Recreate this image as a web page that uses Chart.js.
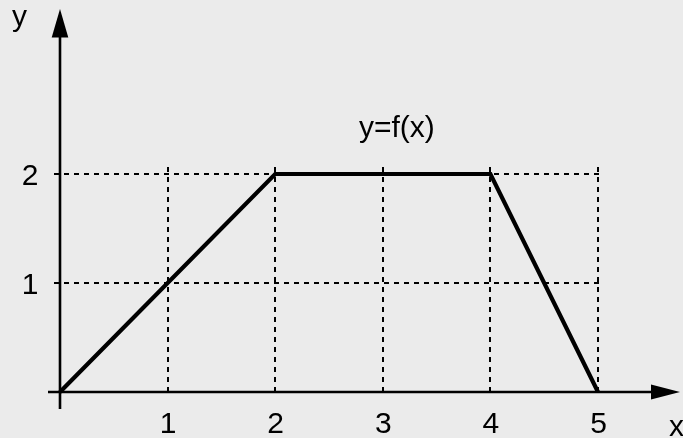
<!DOCTYPE html>
<html><head><meta charset="utf-8">
<script src="https://cdn.jsdelivr.net/npm/chart.js@4"></script>
<style>html,body{margin:0;padding:0;background:#ebebeb;overflow:hidden}#wrap{width:683px;height:438px;position:relative}</style>
</head><body><div id="wrap"><canvas id="c"></canvas></div>
<script>
const xValues = [0, 2, 4, 5];
const yValues = [0, 2, 2, 0];
const xTicks = [1, 2, 3, 4, 5];
const yTicks = [1, 2];
const curveLabel = 'y=f(x)';
const xAxisTitle = 'x';
const yAxisTitle = 'y';

const FONT = '30px "Liberation Sans", Arial, sans-serif';

const axesPlugin = {
  id: 'axesPlugin',
  beforeDatasetsDraw(chart) {
    const ctx = chart.ctx, xs = chart.scales.x, ys = chart.scales.y;
    const x0 = xs.getPixelForValue(0), y0 = ys.getPixelForValue(0);
    const xMaxTick = xs.getPixelForValue(Math.max(...xTicks));
    const yMaxTick = ys.getPixelForValue(Math.max(...yTicks));
    ctx.save();
    ctx.strokeStyle = '#000';
    // dashed grid
    ctx.lineWidth = 2;
    ctx.setLineDash([5, 5]);
    yTicks.forEach(v => {
      const py = Math.round(ys.getPixelForValue(v));
      ctx.beginPath();
      ctx.moveTo(x0 - 6, py);
      ctx.lineTo(xMaxTick + 2, py);
      ctx.stroke();
    });
    xTicks.forEach(v => {
      const px = Math.round(xs.getPixelForValue(v));
      ctx.beginPath();
      ctx.moveTo(px, y0);
      ctx.lineTo(px, yMaxTick - 9);
      ctx.stroke();
    });
    ctx.setLineDash([]);
    // axes
    ctx.lineWidth = 2.6;
    ctx.beginPath();
    ctx.moveTo(xs.left, y0);
    ctx.lineTo(xs.right - 20, y0);
    ctx.moveTo(x0, ys.bottom);
    ctx.lineTo(x0, ys.top + 20);
    ctx.stroke();
    // arrows
    ctx.fillStyle = '#000';
    ctx.beginPath();
    ctx.moveTo(xs.right, y0);
    ctx.lineTo(xs.right - 29, y0 - 7.5);
    ctx.lineTo(xs.right - 29, y0 + 7.5);
    ctx.closePath();
    ctx.fill();
    ctx.beginPath();
    ctx.moveTo(x0, ys.top);
    ctx.lineTo(x0 - 8.3, ys.top + 28.5);
    ctx.lineTo(x0 + 8.3, ys.top + 28.5);
    ctx.closePath();
    ctx.fill();
    ctx.restore();
  },
  afterDatasetsDraw(chart) {
    const ctx = chart.ctx, xs = chart.scales.x, ys = chart.scales.y;
    const x0 = xs.getPixelForValue(0), y0 = ys.getPixelForValue(0);
    ctx.save();
    ctx.fillStyle = '#000';
    ctx.font = FONT;
    ctx.textBaseline = 'alphabetic';
    ctx.textAlign = 'center';
    xTicks.forEach(v => {
      ctx.fillText(String(v), xs.getPixelForValue(v) + 0.5, y0 + 41.5);
    });
    yTicks.forEach(v => {
      ctx.fillText(String(v), x0 - 30, ys.getPixelForValue(v) + 11);
    });
    ctx.fillText(curveLabel, xs.getPixelForValue(3) + 14, ys.getPixelForValue(2) - 37);
    ctx.textAlign = 'left';
    ctx.fillText(xAxisTitle, xs.right - 11, y0 + 44);
    ctx.fillText(yAxisTitle, x0 - 48, ys.top + 17);
    ctx.restore();
  }
};

new Chart(document.getElementById('c'), {
  type: 'scatter',
  data: {
    datasets: [{
      data: xValues.map((x, i) => ({ x, y: yValues[i] })),
      showLine: true,
      borderColor: '#000',
      backgroundColor: '#000',
      borderWidth: 4.2,
      pointRadius: 0,
      tension: 0,
      borderJoinStyle: 'miter',
      borderCapStyle: 'butt',
      fill: false
    }]
  },
  options: {
    responsive: true,
    maintainAspectRatio: false,
    animation: false,
    events: [],
    layout: { padding: { left: 48, right: 3, top: 9, bottom: 29 } },
    scales: {
      x: { type: 'linear', display: false, min: -0.1115, max: 5.762 },
      y: { type: 'linear', display: false, min: -0.156, max: 3.514 }
    },
    plugins: { legend: { display: false }, tooltip: { enabled: false } }
  },
  plugins: [axesPlugin]
});
</script>
</body></html>
